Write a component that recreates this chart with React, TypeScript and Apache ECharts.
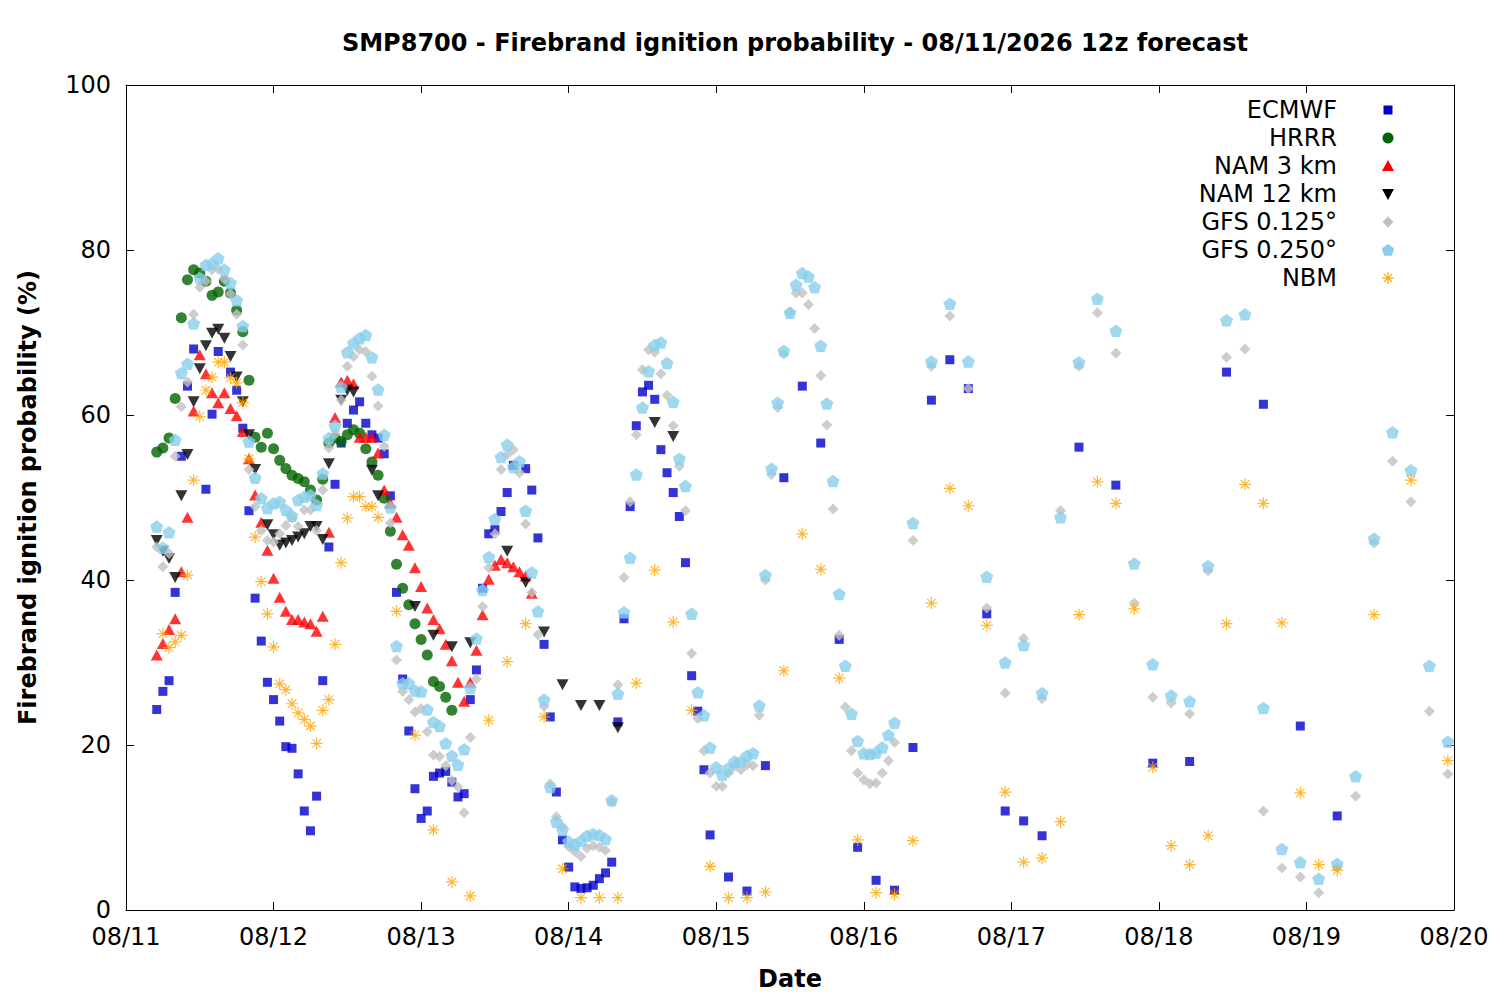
import React, { useEffect, useRef } from 'react';
import * as echarts from 'echarts';

// x is hours since 08/11 00 local; the 12z run starts at hour 5
const dateLabels = ['08/11', '08/12', '08/13', '08/14', '08/15', '08/16', '08/17', '08/18', '08/19', '08/20'];
const yTicks = [0, 20, 40, 60, 80, 100];

// ECMWF: hourly h5-h95, 3-hourly h98-h149, 6-hourly h155-h197
const ecmwfHourly = [
  24.3, 26.5, 27.8, 38.5, 55.0, 63.5, 68.0, null, 51.0, 60.1,
  67.7, null, 65.2, 63.0, 58.4, 48.4, 37.8, 32.6, 27.6, 25.5,
  22.9, 19.8, 19.6, 16.5, 12.0, 9.6, 13.8, 27.8, 44.0, 51.6,
  56.6, 59.0, 60.6, 61.6, 59.0, 57.6, 57.2, 55.3, 50.2, 38.5,
  28.0, 21.7, 14.7, 11.1, 12.0, 16.2, 16.6, 16.8, 15.5, 13.7,
  14.1, 25.5, 29.1, 39.0, 45.6, 46.1, 48.3, 50.6, 53.9, null,
  53.5, 50.9, 45.1, 32.2, 23.4, 14.3, 8.5, 5.2, 2.8, 2.6,
  2.7, 3.0, 3.8, 4.5, 5.8, 22.8, 35.3, 48.9, 58.7, 62.8,
  63.6, 61.9, 55.8, 53.0, 50.6, 47.7, 42.1, 28.4, 24.1, 17.0,
  9.1,
];
const ecmwf3h = [4.0, 2.3, 17.5, 52.4, 63.5, 56.6, 32.8, 7.6, 3.6, 2.4, 19.7, 61.8, 66.7, 63.2, 35.9, 12.0, 10.8, 9.0];
const ecmwf6h = [56.1, 51.5, 17.8, 18.0, 65.2, 61.3, 22.3, 11.4];

// HRRR: hourly h5-h53
const hrrrHourly = [
  55.5, 56.0, 57.2, 62.0, 71.8, 76.4, 77.6, 77.2, 76.2, 74.5,
  74.9, 76.2, 74.8, 72.7, 70.1, 64.2, 57.3, 56.1, 57.8, 55.9,
  54.5, 53.5, 52.7, 52.3, 51.9, 50.9, 49.7, 52.2, 56.6, 57.2,
  56.8, 57.6, 58.2, 57.8, 55.9, 54.3, 52.7, 49.9, 45.9, 41.9,
  39.0, 37.0, 34.7, 32.8, 30.9, 27.7, 27.1, 25.8, 24.2,
];

// NAM 3 km: hourly h5-h66
const nam3Hourly = [
  30.9, 32.3, 34.0, 35.3, 41.0, 47.6, 60.5, 67.3, 65.0, 62.7,
  61.5, 62.7, 60.8, 59.9, 58.0, 54.7, 50.3, 47.0, 43.6, 40.2,
  37.9, 36.2, 35.2, 35.2, 34.9, 34.7, 33.8, 35.6, 45.8, 59.7,
  64.0, 64.2, 63.8, 57.3, 57.3, 57.3, 55.4, 50.9, 49.3, 47.6,
  45.5, 44.2, 41.5, 39.2, 36.6, 35.2, 34.1, 32.2, 30.2, 27.6,
  25.3, 27.6, 31.5, 35.8, 40.1, 41.8, 42.5, 42.1, 41.6, 41.0,
  40.5, 38.4,
];

// NAM 12 km: hourly h5-h41, 3-hourly h44-h89
const nam12Hourly = [
  44.8, 43.5, 42.6, 40.3, 50.2, 55.2, 61.6, 65.6, 68.4, 69.9,
  70.4, 69.3, 67.1, 64.6, 61.6, 57.6, 53.4, null, 46.7, 45.5,
  44.2, 44.5, 44.8, 45.2, 45.6, 46.5, 46.5, 44.9, 54.1, null,
  61.8, 63.0, 62.8, null, null, 53.3, 50.2,
];
const nam12_3h = [null, 36.8, 33.3, 31.9, 32.4, null, 43.5, 39.7, 33.7, 27.3, 24.8, 24.8, 22.1, null, 59.1, 57.4];

// GFS 0.125°: hourly h5-h125, 3-hourly h128-h215
const gfs125Hourly = [
  44.0, 41.6, 43.2, 55.0, 61.0, 64.0, 72.2, 75.5, 76.2, 77.6,
  77.7, 76.5, 74.7, 72.2, 68.5, 53.4, 48.9, 46.0, 44.8, 44.6,
  45.6, 46.6, 47.5, 46.5, 48.5, 48.5, 46.0, 50.9, 56.0, 57.7,
  61.8, 65.9, 67.1, 67.9, 67.7, 64.7, 61.1, 56.2, 46.9, 30.3,
  26.5, 25.5, 24.0, 24.4, 21.6, 18.8, 18.6, 17.5, 15.7, 14.9,
  11.8, 20.9, 28.0, 36.8, 41.5, 45.6, 53.4, 55.2, 55.8, 53.0,
  46.8, 38.5, 33.4, 24.7, 15.3, 11.3, 10.1, 7.7, 7.1, 6.5,
  7.5, 7.8, 7.6, 7.2, 13.1, 27.3, 40.3, 49.5, 57.6, 65.5,
  67.9, 67.6, 65.0, 62.4, 58.7, 53.8, 48.4, 31.1, 23.2, 19.3,
  16.6, 15.0, 15.0, 16.6, 17.5, 17.0, 17.6, 17.5, 23.6, 40.0,
  52.8, 60.9, 67.4, 72.5, 74.8, 74.8, 73.4, 70.5, 64.8, 58.8,
  48.6, 33.3, 24.6, 19.3, 16.6, 15.8, 15.3, 15.4, 16.6, 18.1,
  20.3,
];
const gfs125_3h = [
  44.8, 65.9, 72.0, 63.2, 36.6, 26.3, 32.9, 25.6, 48.4, 65.9,
  72.4, 67.5, 37.2, 25.8, 25.1, 23.8, 41.1, 67.0, 68.0, 12.0,
  5.1, 4.0, 2.1, 5.2, 13.8, 44.5, 54.4, 49.5, 24.1, 16.5,
];

// GFS 0.250°: hourly h5-h125, 3-hourly h128-h215
const gfs250Hourly = [
  46.5, 43.9, 45.8, 57.0, 65.1, 66.2, 71.1, 76.6, 78.2, 78.4,
  79.0, 77.6, 76.0, 73.9, 70.8, 56.8, 52.4, 49.9, 48.7, 49.3,
  49.5, 48.5, 47.8, 49.7, 50.1, 50.3, 49.1, 52.9, 57.2, 58.7,
  63.4, 67.6, 68.7, 69.3, 69.7, 67.0, 63.1, 57.6, 48.8, 32.0,
  27.5, 27.5, 26.6, 26.5, 24.3, 22.8, 22.3, 20.2, 18.7, 17.6,
  19.5, 26.9, 32.9, 38.8, 42.8, 47.4, 54.9, 56.4, 53.7, 54.4,
  48.4, 40.9, 36.2, 25.5, 14.9, 10.7, 9.7, 8.3, 7.9, 8.4,
  9.0, 9.2, 9.1, 8.6, 13.3, 26.2, 36.1, 42.7, 52.8, 60.9,
  65.3, 68.5, 68.8, 66.3, 61.6, 54.7, 51.4, 35.9, 26.4, 23.6,
  19.7, 17.3, 16.4, 17.2, 18.0, 18.0, 18.7, 19.0, 24.8, 40.6,
  53.5, 61.5, 67.8, 72.4, 75.8, 77.2, 76.8, 75.5, 68.4, 61.4,
  52.0, 38.3, 29.6, 23.8, 20.5, 19.0, 18.9, 19.1, 19.7, 21.2,
  22.7,
];
const gfs250_3h = [
  46.9, 66.5, 73.5, 66.5, 40.4, 30.0, 32.1, 26.3, 47.6, 66.4,
  74.1, 70.2, 42.0, 29.8, 26.0, 25.3, 41.7, 71.5, 72.2, 24.5,
  7.4, 5.8, 3.8, 5.6, 16.2, 45.0, 57.9, 53.3, 29.6, 20.4,
];

// NBM: hourly h6-h41, 3-hourly h44-h197, 6-hourly h203-h215
const nbmHourly = [
  33.5, 31.8, 32.5, 33.3, 40.6, 52.1, 59.8, 63.0, 64.6, 66.4,
  66.4, 64.5, 63.9, 61.5, 54.7, 45.2, 39.8, 35.9, 31.9, 27.4,
  26.7, 25.0, 23.9, 23.1, 22.3, 20.2, 24.2, 25.5, 32.2, 42.1,
  47.5, 50.1, 50.1, 48.9, 48.9, 47.6,
];
const nbm3h = [
  36.2, 21.2, 9.7, 3.4, 1.7, 23.0, 30.1, 34.7, 23.4, 5.0,
  1.5, 1.5, 1.5, 27.5, 41.2, 34.9, 24.2, 5.3, 1.5, 1.5,
  2.2, 29.0, 45.6, 41.3, 28.1, 8.5, 2.1, 1.9, 8.4, 37.2,
  51.1, 49.0, 34.5, 14.3, 5.8, 6.3, 10.7, 35.8, 51.9, 49.3,
  36.5, 17.3, 7.8, 5.5, 9.0, 34.7, 51.6, 49.3, 34.8, 14.2,
  5.5, 4.8,
];
const nbm6h = [35.8, 52.1, 18.1];

const FONT = 'DejaVu Sans';
const FS = 24;

const steps = (start: number, step: number, n: number) =>
  Array.from({ length: n }, (_, i) => start + i * step);

const pairs = (start: number, step: number, values: (number | null)[]) =>
  steps(start, step, values.length)
    .map((h, i) => (values[i] == null ? null : [h, values[i]]))
    .filter(Boolean) as number[][];

const PENTAGON = 'path://M50,0 L97.55,34.55 L79.39,90.45 L20.61,90.45 L2.45,34.55 Z';
const ASTERISK = 'path://M50,0 L50,100 M0,50 L100,50 M14.6,14.6 L85.4,85.4 M14.6,85.4 L85.4,14.6';

const tick = () => ({ show: true, inside: true, length: 8, lineStyle: { color: '#000', width: 1 } });
const line = () => ({ show: true, onZero: false, lineStyle: { color: '#000', width: 1 } });

const App: React.FC = () => {
  const chartRef = useRef<HTMLDivElement>(null);

  useEffect(() => {
    if (!chartRef.current) return;
    const chart = echarts.init(chartRef.current, undefined, { renderer: 'svg' });

    // hand-drawn legend (gnuplot style: text right-aligned, symbol to the right)
    const legendX = 1388;
    const legendTextX = 1337;
    const rowY = (i: number) => 110 + i * 28;
    const legendNames = ['ECMWF', 'HRRR', 'NAM 3 km', 'NAM 12 km', 'GFS 0.125°', 'GFS 0.250°', 'NBM'];
    const pentagon = (cx: number, cy: number, r: number) =>
      [0, 1, 2, 3, 4].map(k => {
        const a = -Math.PI / 2 + (k * 2 * Math.PI) / 5;
        return [cx + r * Math.cos(a), cy + r * Math.sin(a)];
      });
    const legendGraphics: any[] = legendNames.map((name, i) => ({
      type: 'text',
      x: legendTextX,
      y: rowY(i),
      style: { text: name, fontSize: FS, fontFamily: FONT, fill: '#000', align: 'right', verticalAlign: 'middle' },
    }));
    legendGraphics.push(
      { type: 'rect', shape: { x: legendX - 4.5, y: rowY(0) - 4.5, width: 9, height: 9 }, style: { fill: '#0000cc' } },
      { type: 'circle', shape: { cx: legendX, cy: rowY(1), r: 5.5 }, style: { fill: '#006400' } },
      { type: 'polygon', shape: { points: [[legendX, rowY(2) - 6], [legendX + 6, rowY(2) + 5], [legendX - 6, rowY(2) + 5]] }, style: { fill: '#ff0000' } },
      { type: 'polygon', shape: { points: [[legendX - 6, rowY(3) - 5], [legendX + 6, rowY(3) - 5], [legendX, rowY(3) + 6]] }, style: { fill: '#000' } },
      { type: 'polygon', shape: { points: [[legendX, rowY(4) - 5.5], [legendX + 5.5, rowY(4)], [legendX, rowY(4) + 5.5], [legendX - 5.5, rowY(4)]] }, style: { fill: '#c0c0c0' } },
      { type: 'polygon', shape: { points: pentagon(legendX, rowY(5) + 0.5, 6.5) }, style: { fill: '#87ceeb' } },
    );
    [[0, -6, 0, 6], [-6, 0, 6, 0], [-4.2, -4.2, 4.2, 4.2], [-4.2, 4.2, 4.2, -4.2]].forEach(([a, b, c, d]) => {
      legendGraphics.push({
        type: 'line',
        shape: { x1: legendX + a, y1: rowY(6) + b, x2: legendX + c, y2: rowY(6) + d },
        style: { stroke: '#ffa500', lineWidth: 1.2 },
      });
    });

    const option = {
      animation: false,
      backgroundColor: '#fff',
      textStyle: { fontFamily: FONT },
      title: {
        text: 'SMP8700 - Firebrand ignition probability - 08/11/2026 12z forecast',
        left: 790,
        textAlign: 'center',
        top: 26,
        textStyle: { fontSize: FS, fontWeight: 'bold', color: '#000', fontFamily: FONT },
      },
      grid: { left: 126, right: 46, top: 85, bottom: 90 },
      xAxis: [
        {
          type: 'value',
          min: 0,
          max: 216,
          interval: 24,
          position: 'bottom',
          axisLine: line(),
          axisTick: tick(),
          splitLine: { show: false },
          name: 'Date',
          nameLocation: 'middle',
          nameGap: 57,
          nameTextStyle: { fontSize: FS, fontWeight: 'bold', color: '#000', fontFamily: FONT },
          axisLabel: {
            fontSize: FS,
            color: '#000',
            fontFamily: FONT,
            margin: 15,
            formatter: (v: number) => dateLabels[Math.round(v / 24)] ?? '',
          },
        },
        {
          type: 'value',
          min: 0,
          max: 216,
          interval: 24,
          position: 'top',
          axisLine: line(),
          axisTick: tick(),
          splitLine: { show: false },
          axisLabel: { show: false },
        },
      ],
      yAxis: [
        {
          type: 'value',
          min: yTicks[0],
          max: yTicks[yTicks.length - 1],
          interval: 20,
          position: 'left',
          axisLine: line(),
          axisTick: tick(),
          splitLine: { show: false },
          name: 'Firebrand ignition probability (%)',
          nameLocation: 'middle',
          nameGap: 86,
          nameTextStyle: { fontSize: FS, fontWeight: 'bold', color: '#000', fontFamily: FONT },
          axisLabel: { fontSize: FS, color: '#000', fontFamily: FONT, margin: 15 },
        },
        {
          type: 'value',
          min: yTicks[0],
          max: yTicks[yTicks.length - 1],
          interval: 20,
          position: 'right',
          axisLine: line(),
          axisTick: tick(),
          splitLine: { show: false },
          axisLabel: { show: false },
        },
      ],
      series: [
        {
          name: 'ECMWF',
          type: 'scatter',
          symbol: 'rect',
          symbolSize: 9,
          itemStyle: { color: '#0000cc' },
          data: [...pairs(5, 1, ecmwfHourly), ...pairs(98, 3, ecmwf3h), ...pairs(155, 6, ecmwf6h)],
        },
        {
          name: 'HRRR',
          type: 'scatter',
          symbol: 'circle',
          symbolSize: 11,
          itemStyle: { color: '#006400' },
          data: pairs(5, 1, hrrrHourly),
        },
        {
          name: 'NAM 3 km',
          type: 'scatter',
          symbol: 'triangle',
          symbolSize: [12, 11],
          itemStyle: { color: '#ff0000' },
          data: pairs(5, 1, nam3Hourly),
        },
        {
          name: 'NAM 12 km',
          type: 'scatter',
          symbol: 'triangle',
          symbolRotate: 180,
          symbolSize: [12, 11],
          itemStyle: { color: '#000000' },
          data: [...pairs(5, 1, nam12Hourly), ...pairs(44, 3, nam12_3h)],
        },
        {
          name: 'GFS 0.125°',
          type: 'scatter',
          symbol: 'diamond',
          symbolSize: 11,
          itemStyle: { color: '#c0c0c0' },
          data: [...pairs(5, 1, gfs125Hourly), ...pairs(128, 3, gfs125_3h)],
        },
        {
          name: 'GFS 0.250°',
          type: 'scatter',
          symbol: PENTAGON,
          symbolSize: [13, 12.5],
          itemStyle: { color: '#87ceeb' },
          data: [...pairs(5, 1, gfs250Hourly), ...pairs(128, 3, gfs250_3h)],
        },
        {
          name: 'NBM',
          type: 'scatter',
          symbol: ASTERISK,
          symbolSize: 12,
          itemStyle: { color: 'none', borderColor: '#ffa500', borderWidth: 1.2 },
          data: [...pairs(6, 1, nbmHourly), ...pairs(44, 3, nbm3h), ...pairs(203, 6, nbm6h)],
        },
      ],
      graphic: legendGraphics,
    };

    chart.setOption(option as any);

    return () => {
      chart.dispose();
    };
  }, []);

  return (
    <div
      ref={chartRef}
      style={{ position: 'fixed', left: 0, top: 0, width: '1500px', height: '1000px', background: '#fff' }}
    />
  );
};

export default App;
